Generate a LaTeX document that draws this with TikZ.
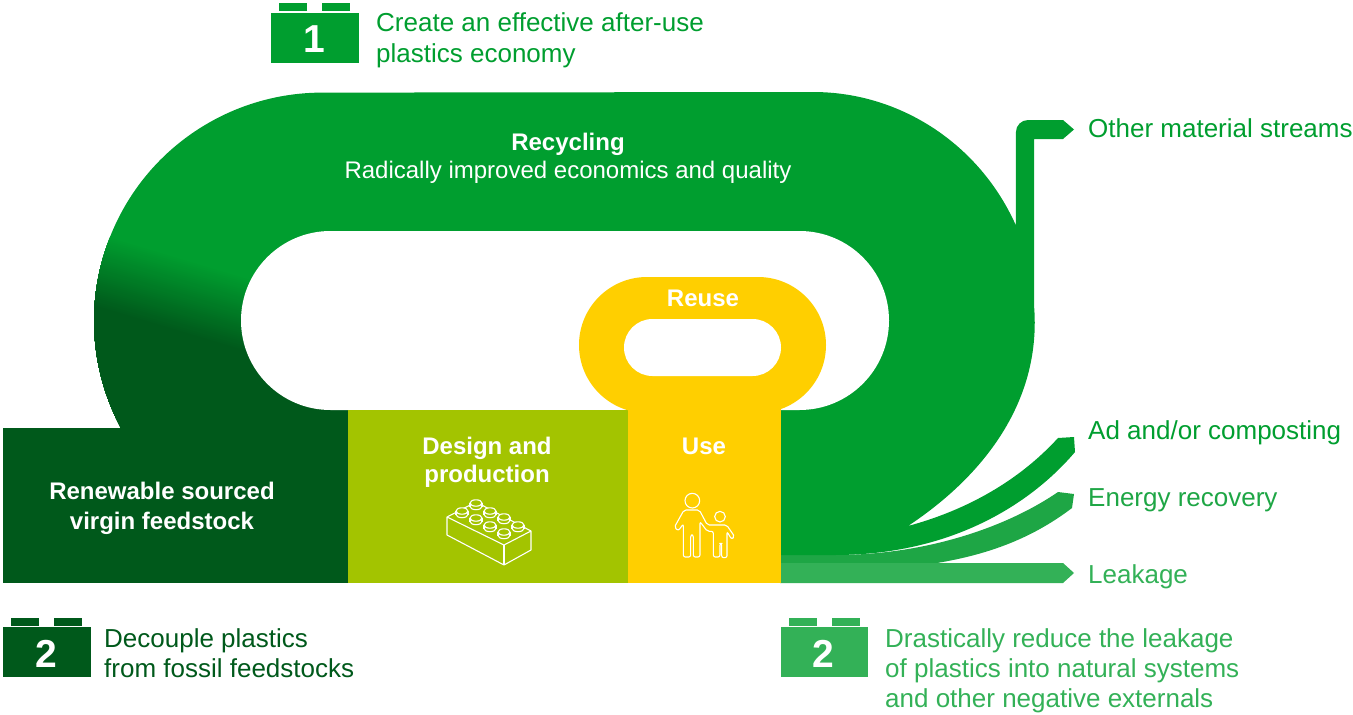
\documentclass[tikz,border=0pt]{standalone}
\usepackage{fontspec}
\setmainfont{Liberation Sans}
\definecolor{mgreen}{HTML}{009E2F}
\definecolor{dgreen}{HTML}{00591B}
\definecolor{olive}{HTML}{A3C400}
\definecolor{yel}{HTML}{FFCF00}
\definecolor{egreen}{HTML}{1EA645}
\definecolor{lgreen}{HTML}{33B157}
\tikzset{
  lbl/.style={anchor=west,inner sep=0pt,align=left,font=\fontsize{26}{30}\selectfont},
  wlbl/.style={text=white,inner sep=0pt,align=center,font=\fontsize{24}{28.5}\selectfont\bfseries},
  num/.style={text=white,inner sep=0pt,font=\fontsize{39}{39}\selectfont\bfseries},
  icon/.style={draw=white,line width=1.1pt,line join=round}
}
\newcommand{\mainbody}{(121,428) arc[start angle=151.9,end angle=270,radius=228] -- (813,92)
  arc[start angle=270,end angle=335.4,x radius=223,y radius=228]
  [rounded corners=12pt] -- (1016,120) [sharp corners] -- (1063,120) -- (1074,129.5) -- (1063,139) -- (1034,139) -- (1034,305)
  .. controls (1042,400) and (985,475) .. (908,526)
  .. controls (960,512) and (1015,485) .. (1058,438) -- (1074,437) -- (1075,452)
  .. controls (1030,505) and (950,555) .. (835,555) -- (780,555) -- (780,575) -- (121,575) -- cycle}
\newcommand{\brick}[3]{% x, y of body top-left, colour
  \fill[#3] (#1,#2) rectangle ++(87.5,50);
  \fill[#3] ({#1+8},{#2-9.5}) rectangle ++(28,8);
  \fill[#3] ({#1+51},{#2-9.5}) rectangle ++(28,8);}
\newcommand{\stud}[2]{%
  \draw[icon,fill=olive] (#1,{#2+3.5}) ellipse[x radius=6,y radius=3.2];
  \fill[olive] ({#1-6},{#2}) rectangle ({#1+6},{#2+3.5});
  \draw[icon] ({#1-6},{#2}) -- ({#1-6},{#2+3.5}) ({#1+6},{#2}) -- ({#1+6},{#2+3.5});
  \draw[icon,fill=olive] (#1,#2) ellipse[x radius=6,y radius=3.2];}
\begin{document}
\begin{tikzpicture}[x=1pt,y=-1pt]
\useasboundingbox (0,0) rectangle (1353,715);
% bands
\fill[egreen] (780,555) -- (835,555) .. controls (930,555) and (1010,525) .. (1058,492) -- (1074,494) -- (1072,508)
  .. controls (1030,540) and (985,555) .. (937,563) -- (780,563) -- cycle;
\fill[lgreen] (780,563) -- (1063,563) -- (1074,573) -- (1063,583) -- (780,583) -- cycle;
% main loop
\fill[mgreen] \mainbody;
\begin{scope}
  \clip \mainbody;
  \foreach \i in {0,...,37} {
    \pgfmathsetmacro{\pc}{100*(\i/37)}
    \pgfmathsetmacro{\yy}{273+2*\i-69.9}
    \fill[dgreen!\pc!mgreen] (0,\yy) -- (420,{\yy+126}) -- (420,600) -- (0,600) -- cycle;
  }
\end{scope}
\fill[white,rounded corners=89.5pt] (241,231) rectangle (889,410);
% lower blocks
\fill[dgreen] (3,428) rectangle (348,583);
\fill[olive] (348,410) rectangle (628.5,583);
\fill[yel,rounded corners=68pt] (579,277) rectangle (826,413);
\fill[yel] (628,405) rectangle (780.5,583);
\fill[white,rounded corners=28.5pt] (624,319) rectangle (781,376);
% bricks
\brick{271}{12.5}{mgreen}
\brick{3}{627}{dgreen}
\brick{780.5}{627}{lgreen}
\node[num] (n1) at (314,39) {1};
\node[num] (n2) at (46,654) {2};
\node[num] (n3) at (823,654) {2};
% lego icon
\draw[icon] (447,517) -- (447,535) -- (504,565) -- (531,550) -- (531,531) -- (504,545) -- (447,517) -- (476,502) -- (531,531);
\draw[icon] (504,545) -- (504,565);
\stud{476}{503}\stud{462}{511}\stud{490}{511}\stud{476}{518}\stud{504}{517}\stud{490}{525}\stud{518}{525}\stud{504}{532}
% people icon
\begin{scope}[shift={(420,270)},scale=1/3]
  \draw[icon] (817,692) circle[radius=22];
  \draw[icon] (900,740) circle[radius=16];
  \draw[icon,rounded corners=2pt] (792,720) -- (763,772) -- (775,782) -- (790,762) -- (790,861) -- (812,861) -- (812,795) -- (820,795) -- (820,861) -- (840,861) -- (840,755) -- (862,784) -- (880,784) -- (880,861) -- (900,861) -- (900,820) -- (905,820) -- (905,863) -- (921,863) -- (921,785) -- (935,808) -- (944,800) -- (920,765) -- (862,765) -- (838,720) -- cycle;
\end{scope}
% white labels
\node[wlbl] (rec) at (568,144) {Recycling};
\node[wlbl,font=\fontsize{24}{28}\selectfont] (radi) at (568,172.5) {Radically improved economics and quality};
\node[wlbl] (reuse) at (703,298) {Reuse};
\node[wlbl] (use) at (704,446) {Use};
\node[wlbl] (design) at (487,462.5) {Design and\\production};
\node[wlbl,font=\fontsize{24}{29.5}\selectfont\bfseries] (renew) at (162,508.5) {Renewable sourced\\virgin feedstock};
% coloured labels
\node[lbl,text=mgreen,font=\fontsize{26}{31}\selectfont] (t1) at (376,40.5) {Create an effective after-use\\plastics economy};
\node[lbl,text=mgreen] (oth) at (1088,128) {Other material streams};
\node[lbl,text=mgreen] (ad) at (1088,433) {Ad and/or composting};
\node[lbl,text=egreen] (en) at (1088,500) {Energy recovery};
\node[lbl,text=lgreen] (le) at (1088,577) {Leakage};
\node[lbl,text=dgreen] (t2) at (104,653) {Decouple plastics\\from fossil feedstocks};
\node[lbl,text=lgreen] (t3) at (885,670.5) {Drastically reduce the leakage\\of plastics into natural systems\\and other negative externals};
\end{tikzpicture}
\end{document}
